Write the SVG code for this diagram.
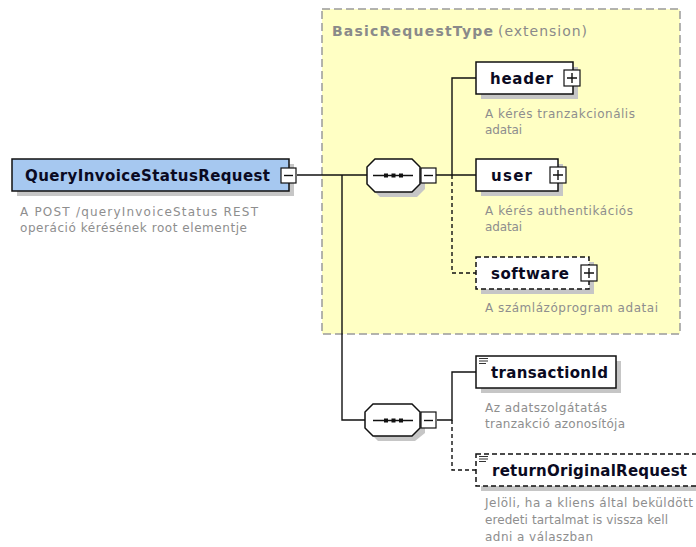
<svg xmlns="http://www.w3.org/2000/svg" width="696" height="547" viewBox="0 0 696 547">
<defs>
<style>
.lbl{font-family:"DejaVu Sans",Verdana,sans-serif;font-weight:bold;font-size:15px;fill:#0a0a22}
.desc{font-family:"DejaVu Sans",Verdana,sans-serif;font-size:12px;fill:#8e8e8e}
.ttl{font-family:"DejaVu Sans",Verdana,sans-serif;font-size:14px;fill:#8a8a8a}
.box{fill:#fff;stroke:#111;stroke-width:1.5}
.dbox{fill:#fff;stroke:#111;stroke-width:1.5;stroke-dasharray:5 3}
.shd{fill:#c6c6c6}
.pm{fill:#fff;stroke:#111;stroke-width:1.2}
.sym{stroke:#111;stroke-width:1.4;fill:none}
.ln{stroke:#111;stroke-width:1.4;fill:none}
.dln{stroke:#111;stroke-width:1.4;fill:none;stroke-dasharray:4 3}
</style>
</defs>

<g id="basicRequestType">
<rect x="322" y="9" width="358" height="325" fill="#ffffc4" stroke="#9a9a9a" stroke-width="1.5" stroke-dasharray="8 4"/>
<text x="332" y="36" class="ttl"><tspan font-weight="bold" textLength="161">BasicRequestType</tspan><tspan x="498" textLength="89">(extension)</tspan></text>
</g>

<g id="connectors">
<path class="ln" d="M297,175 H367"/>
<path class="ln" d="M342,175 V420 H365"/>
<path class="ln" d="M436,175 H476"/>
<path class="ln" d="M476,78 H452 V175"/>
<path class="dln" d="M452,175 V273 H476"/>
<path class="ln" d="M437,420 H452 V372 H476"/>
<path class="dln" d="M452,420 V470 H476"/>
</g>

<g id="QueryInvoiceStatusRequest">
<rect class="shd" x="17" y="164" width="277" height="32"/>
<rect x="12" y="159" width="277" height="32" fill="#a6c8f0" stroke="#111" stroke-width="1.5"/>
<text x="25" y="180.5" class="lbl" textLength="245" lengthAdjust="spacing">QueryInvoiceStatusRequest</text>
<rect class="pm" x="281" y="168" width="15" height="15"/>
<path class="sym" d="M284,175.5 H293"/>
<text class="desc" x="20" y="216" textLength="238" lengthAdjust="spacing">A POST /queryInvoiceStatus REST</text>
<text class="desc" x="20" y="232" textLength="227" lengthAdjust="spacing">operáció kérésének root elementje</text>
</g>

<g id="sequence1">
<polygon class="shd" points="380,164 417,164 425,172 425,189 417,197 380,197 372,189 372,172"/>
<polygon class="box" points="375,159 412,159 420,167 420,184 412,192 375,192 367,184 367,167"/>
<path class="sym" d="M373,175.5 H413"/>
<rect x="384" y="173.5" width="4" height="4" fill="#111"/>
<rect x="391.5" y="173.5" width="4" height="4" fill="#111"/>
<rect x="399" y="173.5" width="4" height="4" fill="#111"/>
<rect class="pm" x="421" y="168" width="15" height="15"/>
<path class="sym" d="M424,175.5 H433"/>
</g>

<g id="header">
<rect class="shd" x="481" y="67" width="97" height="32"/>
<rect class="box" x="476" y="62" width="97" height="32"/>
<text class="lbl" x="490" y="83.5" textLength="63" lengthAdjust="spacing">header</text>
<rect class="pm" x="564" y="70" width="16" height="16"/>
<path class="sym" d="M567,78 H577 M572,73 V83"/>
<text class="desc" x="485" y="118" textLength="150" lengthAdjust="spacing">A kérés tranzakcionális</text>
<text class="desc" x="485" y="134" textLength="37" lengthAdjust="spacing">adatai</text>
</g>

<g id="user">
<rect class="shd" x="481" y="164" width="82" height="32"/>
<rect class="box" x="476" y="159" width="82" height="32"/>
<text class="lbl" x="491" y="180.5" textLength="41" lengthAdjust="spacing">user</text>
<rect class="pm" x="550" y="167" width="16" height="16"/>
<path class="sym" d="M553,175 H563 M558,170 V180"/>
<text class="desc" x="485" y="215" textLength="148" lengthAdjust="spacing">A kérés authentikációs</text>
<text class="desc" x="485" y="231" textLength="37" lengthAdjust="spacing">adatai</text>
</g>

<g id="software">
<rect class="shd" x="481" y="262" width="113" height="32"/>
<rect class="dbox" x="476" y="257" width="113" height="32"/>
<text class="lbl" x="491" y="278.5" textLength="78" lengthAdjust="spacing">software</text>
<rect class="pm" x="581" y="265" width="16" height="16"/>
<path class="sym" d="M584,273 H594 M589,268 V278"/>
<text class="desc" x="485" y="312" textLength="173" lengthAdjust="spacing">A számlázóprogram adatai</text>
</g>

<g id="sequence2">
<polygon class="shd" points="378,409 415,409 425,417 425,433 415,441 378,441 370,433 370,417"/>
<polygon class="box" points="373,404 412,404 420,412 420,428 412,436 373,436 365,428 365,412"/>
<path class="sym" d="M373,420.5 H413"/>
<rect x="384" y="418.5" width="4" height="4" fill="#111"/>
<rect x="391.5" y="418.5" width="4" height="4" fill="#111"/>
<rect x="399" y="418.5" width="4" height="4" fill="#111"/>
<rect class="pm" x="421" y="412" width="15" height="16"/>
<path class="sym" d="M424,420.5 H433"/>
</g>

<g id="transactionId">
<rect class="shd" x="481" y="361" width="140" height="32"/>
<rect class="box" x="476" y="356" width="140" height="32"/>
<path stroke="#333" stroke-width="1" d="M479,358.5 H488 M479,361 H488 M479,363.5 H486"/>
<text class="lbl" x="491" y="377.5" textLength="117" lengthAdjust="spacing">transactionId</text>
<text class="desc" x="485" y="412" textLength="122" lengthAdjust="spacing">Az adatszolgátatás</text>
<text class="desc" x="485" y="428" textLength="140" lengthAdjust="spacing">tranzakció azonosítója</text>
</g>

<g id="returnOriginalRequest">
<rect class="shd" x="481" y="459" width="230" height="32"/>
<rect class="dbox" x="476" y="454" width="230" height="32"/>
<path stroke="#333" stroke-width="1" d="M479,456.5 H488 M479,459 H488 M479,461.5 H486"/>
<text class="lbl" x="492" y="475.5" textLength="195" lengthAdjust="spacing">returnOriginalRequest</text>
<text class="desc" x="485" y="507" textLength="208" lengthAdjust="spacing">Jelöli, ha a kliens által beküldött</text>
<text class="desc" x="485" y="524" textLength="183" lengthAdjust="spacing">eredeti tartalmat is vissza kell</text>
<text class="desc" x="485" y="541" textLength="108" lengthAdjust="spacing">adni a válaszban</text>
</g>
</svg>
